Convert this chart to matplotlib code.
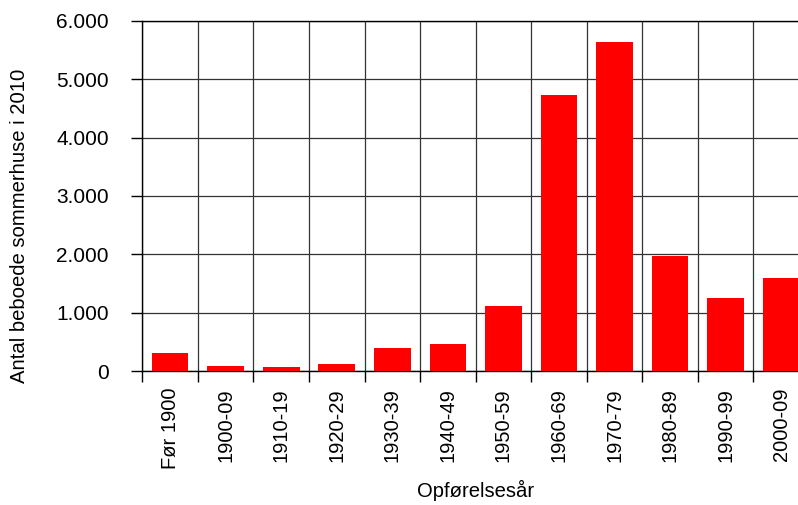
import matplotlib
matplotlib.use("Agg")
import matplotlib.pyplot as plt
from matplotlib.ticker import FuncFormatter, MultipleLocator, FixedLocator

periods = ["Før 1900", "1900-09", "1910-19", "1920-29", "1930-39", "1940-49",
           "1950-59", "1960-69", "1970-79", "1980-89", "1990-99", "2000-09"]
houses = [310, 90, 80, 130, 400, 470, 1110, 4730, 5630, 1980, 1260, 1600]

plt.rcParams['font.family'] = ['Liberation Sans', 'DejaVu Sans']

fig = plt.figure(figsize=(7.98, 5.05), dpi=100)
ax = fig.add_axes([0.1783, 0.2648, 0.8355, 0.6943])

x = list(range(len(periods)))
ax.bar(x, houses, width=0.66, color='#ff0000', zorder=3)

ax.set_xlim(-0.5, len(periods) - 0.5)
ax.set_ylim(0, 6000)

# y ticks every 1000, with Danish thousands separator
ax.yaxis.set_major_locator(MultipleLocator(1000))
ax.yaxis.set_major_formatter(FuncFormatter(lambda v, p: f"{int(v):,}".replace(",", ".")))

# category labels at centres, tick marks and grid at the boundaries
ax.set_xticks(x)
ax.set_xticklabels(periods, rotation=90)
ax.xaxis.set_minor_locator(FixedLocator([i - 0.5 for i in range(len(periods) + 1)]))
ax.tick_params(axis='x', which='major', length=0, pad=12, labelsize=14.5)
ax.tick_params(axis='x', which='minor', length=8, width=1, direction='out')
ax.tick_params(axis='y', which='major', length=8, width=1, direction='out', pad=16, labelsize=15)
ax.tick_params(right=False, top=False)

ax.grid(True, axis='x', which='minor', color='#333333', linewidth=0.9, zorder=0)
ax.grid(True, axis='y', which='major', color='#333333', linewidth=0.9, zorder=0)
ax.grid(False, axis='x', which='major')
ax.set_axisbelow(True)

for s in ax.spines.values():
    s.set_color('black')
    s.set_linewidth(1.0)

ax.set_ylabel("Antal beboede sommerhuse i 2010", fontsize=14.6, va='center')
ax.yaxis.set_label_coords(-0.1835, 0.414)
ax.set_xlabel("Opførelsesår", fontsize=14.6, va='center')
ax.xaxis.set_label_coords(0.5, -0.3386)

fig.savefig("out.png", dpi=100)
